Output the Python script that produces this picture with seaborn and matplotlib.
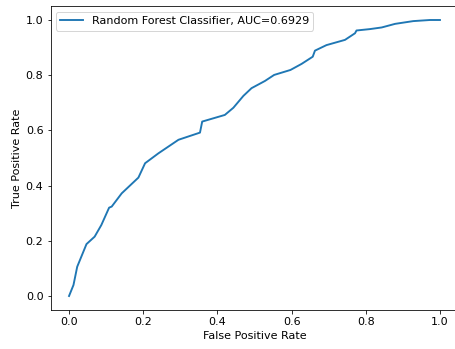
import matplotlib
matplotlib.use("Agg")
import matplotlib.pyplot as plt
import seaborn as sns
import pandas as pd

fpr = [0, 0.012, 0.022, 0.047, 0.069, 0.087, 0.108, 0.115, 0.142, 0.187, 0.205, 0.241, 0.295,
       0.353, 0.359, 0.42, 0.443, 0.47, 0.492, 0.528, 0.553, 0.597, 0.627, 0.657, 0.663, 0.694,
       0.744, 0.771, 0.775, 0.811, 0.843, 0.879, 0.928, 0.973, 1.0]
tpr = [0, 0.04, 0.106, 0.188, 0.215, 0.257, 0.32, 0.324, 0.372, 0.429, 0.481, 0.517, 0.566,
       0.592, 0.632, 0.656, 0.682, 0.725, 0.753, 0.779, 0.801, 0.819, 0.841, 0.867, 0.889, 0.909,
       0.928, 0.952, 0.962, 0.967, 0.973, 0.986, 0.996, 1.0, 1.0]
label = "Random Forest Classifier, AUC=0.6929"

df = pd.DataFrame({"fpr": fpr, "tpr": tpr})

plt.rcParams["font.size"] = 11.1
fig = plt.figure(figsize=(455 / 72, 349 / 72), dpi=72)
ax = fig.add_axes([50.5 / 455, 1 - 309.8 / 349, 408 / 455, 303.6 / 349])
sns.lineplot(data=df, x="fpr", y="tpr", estimator=None, sort=False, label=label, ax=ax,
             color="#1f77b4", linewidth=1.9)
ax.set_xlim(-0.05, 1.05)
ax.set_ylim(-0.05, 1.05)
ax.set_xticks([0, 0.2, 0.4, 0.6, 0.8, 1.0])
ax.set_yticks([0, 0.2, 0.4, 0.6, 0.8, 1.0])
ax.spines["right"].set_visible(False)
ax.set_xlabel("False Positive Rate")
ax.set_ylabel("True Positive Rate")
ax.legend(loc="upper left")
fig.savefig("out.png", dpi=72)
